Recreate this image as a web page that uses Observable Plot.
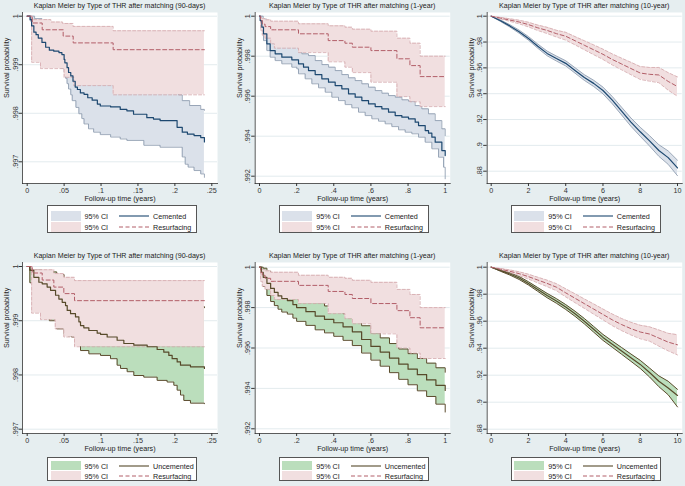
<!DOCTYPE html>
<html>
<head>
<meta charset="utf-8">
<script src="https://cdn.jsdelivr.net/npm/d3@7"></script>
<script src="https://cdn.jsdelivr.net/npm/@observablehq/plot@0.6"></script>
<style>
html,body{margin:0;padding:0}
body{width:685px;height:486px;background:#e6eef0;position:relative;overflow:hidden;font-family:"Liberation Sans",Arial,Helvetica,sans-serif;color:#222}
.pl{position:absolute}
.ttl{position:absolute;font-size:7.1px;white-space:nowrap;transform:translate(-50%,-50%);color:#222}
.lg{position:absolute;background:#fff;border:1px solid #555;box-sizing:border-box;font-size:7.2px;color:#222}
.lg .sw{position:absolute}
.lg .tx{position:absolute;white-space:nowrap;transform:translateY(-50%)}
.lg svg{position:absolute;overflow:visible}
</style>
</head>
<body>
<script>
// ---------- tick values / labels ----------
const xt90 = [0, .05, .1, .15, .2, .25];
const xl90 = ["0", ".05", ".1", ".15", ".2", ".25"];
const xt1 = [0, .2, .4, .6, .8, 1];
const xl1 = ["0", ".2", ".4", ".6", ".8", "1"];
const xt10 = [0, 2, 4, 6, 8, 10];
const xl10 = ["0", "2", "4", "6", "8", "10"];
const ytA90 = [.997, .998, .999, 1];
const ylA90 = [".997", ".998", ".999", "1"];
const yt1 = [.992, .994, .996, .998, 1];
const yl1 = [".992", ".994", ".996", ".998", "1"];
const yt10 = [.88, .9, .92, .94, .96, .98, 1];
const yl10 = [".88", ".9", ".92", ".94", ".96", ".98", "1"];

// ---------- Panel 1: 90 days, cemented vs resurfacing ----------
const cem90_t = [0,.004,.006,.009,.012,.015,.02,.025,.03,.036,.043,.047,.05,.051,.054,.056,.059,.062,.065,.068,.072,.077,.082,.088,.095,.099,.113,.126,.135,.144,.162,.171,.18,.203,.21,.217,.226,.235,.24];
const cem90_s = [1,.99993,.9998,.99967,.99962,.99955,.99946,.99936,.9993,.99928,.99925,.99921,.99911,.99904,.99894,.99884,.99877,.99866,.99854,.99849,.99842,.99839,.99832,.99827,.99819,.99815,.99813,.99808,.99805,.99798,.99791,.99788,.99785,.99771,.99761,.99757,.99754,.9975,.99741];
const cem90_hi_t = [0,.006,.01,.02,.03,.04,.05,.055,.06,.065,.07,.08,.09,.1,.12,.14,.16,.18,.2,.205,.21,.22,.235,.24];
const cem90_hi = [1,1,.99995,.99988,.9998,.99974,.99966,.99952,.99938,.99922,.99905,.99895,.99885,.9988,.99876,.99868,.99862,.99858,.99856,.99838,.99826,.99816,.99808,.99806];
const cem90_lo_t = [0,.004,.006,.009,.013,.018,.022,.027,.036,.045,.05,.052,.054,.056,.059,.061,.066,.07,.074,.077,.083,.09,.099,.113,.126,.135,.158,.18,.21,.214,.218,.226,.235,.24];
const cem90_lo = [1,.9999,.9997,.99955,.9994,.99925,.99912,.99905,.99898,.99893,.99885,.99872,.99861,.9985,.99838,.99826,.99812,.99799,.99789,.99778,.99768,.99761,.99756,.99751,.99747,.99744,.99734,.9973,.9971,.99695,.99689,.99682,.99675,.99668];
const res90a_t = [0,.0068,.0203,.0487,.0623,.1164,.24];
const res90a_s = [1,.99986,.99972,.99959,.99945,.99931,.99931];
const res90a_hi_t = [0,.007,.032,.048,.062,.1164,.24];
const res90a_hi = [1,.99993,.99988,.99985,.99979,.9997,.9997];
const res90a_lo_t = [0,.006,.018,.05,.063,.1164,.24];
const res90a_lo = [1,.99905,.99892,.99874,.99857,.99838,.99838];

// ---------- Panel 2: 1 year, cemented vs resurfacing ----------
const cem1_t = [0,.0036,.0126,.0215,.0395,.0575,.0844,.1203,.1741,.2101,.237,.2639,.2998,.3357,.3716,.4075,.4434,.4794,.5153,.5512,.5871,.623,.6589,.6948,.7307,.7666,.8025,.8384,.8564,.8923,.9102,.9282,.9461,.982,1];
const cem1_s = [1,.99978,.99945,.99912,.99862,.99828,.99812,.99795,.99782,.99762,.99745,.99728,.99708,.99687,.9967,.99653,.99637,.99612,.99595,.99578,.99562,.99548,.99537,.9952,.99503,.99495,.99487,.9947,.99453,.99428,.99415,.99395,.9937,.99328,.99303];
const cem1_hi_t = [0,.01,.02,.04,.06,.09,.12,.17,.21,.228,.264,.3,.336,.372,.4075,.4434,.479,.515,.551,.587,.623,.659,.695,.731,.767,.8025,.838,.874,.91,.946,.982,1];
const cem1_hi = [1,1,.99985,.9996,.99935,.9991,.99885,.9986,.99838,.99812,.99803,.99778,.99758,.99745,.99728,.99708,.99692,.99678,.99662,.99645,.99628,.99615,.99603,.99595,.99582,.99575,.99553,.99537,.99512,.99478,.99437,.99403];
const cem1_lo_t = [0,.009,.0215,.0395,.0575,.0844,.1203,.1741,.201,.21,.246,.282,.318,.354,.3896,.4255,.4614,.4973,.5332,.5691,.605,.641,.6768,.7127,.7487,.7846,.8205,.8564,.8923,.9282,.9641,.991,1];
const cem1_lo = [1,.99945,.99878,.99828,.99795,.99778,.99762,.99745,.99737,.99712,.99687,.99662,.99642,.9962,.99595,.99578,.99558,.99542,.9952,.99503,.99487,.99475,.99462,.99448,.99432,.9942,.99412,.99395,.9937,.99337,.99295,.99245,.99187];
const res1a_t = [0,.006,.015,.03,.06,.08,.21,.37,.46,.5,.6,.74,.81,.865,1];
const res1a_s = [1,.99978,.9996,.99948,.99932,.99932,.99912,.99878,.99865,.99845,.99828,.99787,.99753,.99698,.99698];
const res1a_hi = [1,.99995,.99988,.99982,.99975,.99975,.99962,.99952,.99945,.99935,.99925,.9989,.99865,.998,.998];
const res1a_lo = [1,.9993,.99905,.9989,.99862,.9984,.99818,.99772,.99745,.99718,.9967,.99598,.99572,.99548,.99548];

// ---------- Panel 3: 10 years, cemented vs resurfacing ----------
const t10 = [0,.5,1,1.5,2,2.5,3,3.5,4,4.5,5,5.5,6,6.5,7,7.5,8,8.5,9,9.5,10];
const cem10_s = [1,.9965,.9925,.988,.9828,.9768,.9712,.9672,.9635,.958,.9525,.948,.9425,.935,.9265,.918,.9105,.9035,.896,.8905,.8825];
const cem10_hi = [1,.9971,.9934,.9892,.9842,.9784,.973,.9691,.9655,.9601,.9547,.9504,.9451,.9378,.9295,.9212,.914,.9075,.9005,.8957,.8885];
const cem10_lo = [1,.9959,.9916,.9868,.9814,.9752,.9694,.9653,.9615,.9559,.9503,.9456,.9399,.9322,.9235,.9148,.907,.8995,.8915,.8853,.8765];
const res10a_s = [1,.9985,.997,.9955,.9935,.991,.989,.9865,.9845,.981,.9775,.974,.9705,.9665,.963,.9595,.956,.955,.9545,.9495,.9455];
const res10a_hi = [1,.9991,.998,.9969,.9953,.9931,.9914,.9891,.9875,.9842,.981,.9778,.9745,.9708,.9675,.9643,.961,.9603,.9603,.9563,.953];
const res10a_lo = [1,.9979,.996,.9941,.9917,.9889,.9866,.9839,.9815,.9778,.974,.9702,.9665,.9622,.9585,.9547,.951,.9497,.9485,.9427,.938];

// ---------- Panel 4: 90 days, uncemented vs resurfacing ----------
const unc90_t = [0,.0036,.009,.0158,.0203,.027,.0316,.0384,.0429,.0474,.0519,.0542,.0587,.0654,.07,.0722,.0767,.0835,.0948,.0993,.1083,.1218,.1309,.1444,.1625,.176,.185,.1918,.1963,.2031,.2076,.2211,.24];
const unc90_s = [1,.99993,.9998,.99971,.99968,.99962,.99956,.99947,.9994,.99934,.99928,.99919,.99913,.99907,.99898,.99891,.99887,.99882,.99877,.99875,.9987,.99864,.99858,.99855,.99852,.99847,.99842,.99836,.9983,.99824,.99818,.99815,.99812];
const unc90_hi_t = [0,.0036,.02,.04,.05,.06,.07,.08,.1,.12,.14,.16,.18,.2,.21,.24];
const unc90_hi = [1,.99994,.9999,.99985,.99978,.99972,.99965,.9996,.99955,.9995,.99945,.99942,.99938,.99932,.99926,.99924];
const unc90_lo_t = [0,.0036,.009,.02,.03,.04,.0496,.055,.06,.065,.0722,.0835,.0993,.1128,.1218,.1264,.1354,.1444,.1579,.176,.1895,.1986,.2031,.2076,.2121,.2211,.24];
const unc90_lo = [1,.9997,.9994,.9992,.999,.99885,.99875,.99872,.9987,.99855,.99845,.99839,.99836,.9983,.99818,.99812,.99806,.99799,.99796,.9979,.99787,.99781,.99772,.99763,.99753,.99748,.99747];
const res90b_t = [0,.0068,.0203,.0361,.0496,.0641,.24];
const res90b_s = [1,.99988,.99975,.99962,.9995,.99937,.99937];
const res90b_hi_t = [0,.0068,.0361,.0496,.0641,.24];
const res90b_hi = [1,.99994,.99987,.9998,.99974,.99974];
const res90b_lo_t = [0,.006,.018,.038,.0496,.0641,.24];
const res90b_lo = [1,.99914,.99902,.99885,.9987,.99852,.99852];
const ytB90 = [.997, .998, .999, 1];
const ylB90 = [".997", ".998", ".999", "1"];

// ---------- Panel 5: 1 year, uncemented vs resurfacing ----------
const unc1_t = [0,.01,.02,.04,.06,.08,.1,.12,.15,.18,.2,.25,.3,.35,.4,.45,.5,.55,.6,.65,.7,.75,.8,.85,.9,.95,1];
const unc1_s = [1,.99975,.9995,.9992,.99895,.99875,.99858,.99845,.99835,.99815,.998,.9978,.99758,.99742,.99725,.99705,.9968,.99642,.99608,.9958,.9955,.9952,.99495,.99468,.99442,.99415,.9939];
const unc1_hi = [1,1,.99995,.9998,.9996,.9994,.99925,.99912,.999,.99882,.99868,.99848,.99825,.99808,.9979,.9977,.99745,.9971,.99675,.9965,.99622,.99595,.99572,.99548,.99525,.99502,.9948];
const unc1_lo = [1,.99945,.99905,.9986,.9983,.9981,.99792,.99778,.99768,.99748,.99732,.99712,.9969,.99675,.99658,.99638,.99612,.99575,.9954,.9951,.99478,.99445,.99418,.99388,.9936,.99322,.99283];
const res1b_t = [0,.006,.015,.03,.06,.08,.21,.37,.46,.5,.6,.74,.81,.865,1];
const res1b_s = [1,.99975,.9996,.99945,.9993,.9993,.9991,.9988,.99865,.99845,.9982,.99785,.9975,.997,.997];
const res1b_hi = [1,.99995,.99988,.99982,.99975,.99975,.9996,.9995,.99945,.99935,.99925,.9989,.99865,.998,.998];
const res1b_lo = [1,.9993,.99905,.9989,.9986,.9984,.9982,.9977,.99745,.9972,.9967,.996,.99575,.99548,.99548];

// ---------- Panel 6: 10 years, uncemented vs resurfacing ----------
const unc10_s = [1,.9975,.995,.992,.988,.9835,.979,.975,.9705,.9655,.96,.954,.948,.943,.938,.933,.928,.922,.9155,.9105,.905];
const unc10_hi = [1,.998,.9958,.9931,.9892,.9849,.9806,.9767,.9723,.9674,.962,.9561,.9502,.9453,.9405,.9357,.931,.9253,.9195,.9155,.9095];
const unc10_lo = [1,.997,.9942,.9909,.9868,.9821,.9774,.9733,.9687,.9636,.958,.9519,.9458,.9407,.9355,.9303,.925,.9187,.9115,.9055,.8965];
const res10b_s = [1,.9985,.997,.9952,.993,.9905,.988,.9852,.981,.977,.973,.969,.965,.961,.9575,.9545,.952,.9505,.9475,.9445,.9425];
const res10b_hi = [1,.9991,.998,.9966,.9948,.9926,.9904,.9878,.984,.9803,.9765,.9728,.969,.9653,.962,.9592,.957,.9558,.9535,.951,.95];
const res10b_lo = [1,.9979,.996,.9938,.9912,.9884,.9856,.9826,.978,.9737,.9695,.9652,.961,.9567,.953,.9498,.947,.9452,.9415,.938,.935];

// ---------- labels ----------
const titles = [
  "Kaplan Meier by Type of THR after matching (90-days)",
  "Kaplan Meier by Type of THR after matching (1-year)",
  "Kaplan Meier by Type of THR after matching (10-year)"
];
const xTitle = "Follow-up time (years)";
const yTitle = "Survival probability";
const ciLabel = "95% CI";
const groupTop = "Cemented", groupBottom = "Uncemented", groupRes = "Resurfacing";

// ---------- styles ----------
const C = {
  grid: "#e3ebee",
  cemFill: "#dbe1ea", cemEdge: "#8695aa", cemLine: "#1d4870",
  resFill: "#f1dfe0", resEdge: "#d3a7ab", resLine: "#b25e68",
  uncFill: "#bbdebc", uncEdge: "#5a4b2c", uncLine: "#574a2a",
  axis: "#333"
};
const cols = [
  {left: 0, width: 228, ml: 22, mr: 11, il: 4.7, ir: 5.7, lgLeft: 47},
  {left: 228, width: 227, ml: 26.7, mr: 5.3, il: 4.3, ir: 5, lgLeft: 278.7},
  {left: 455, width: 230, ml: 31.7, mr: 3.3, il: 4, ir: 4.7, lgLeft: 510.7}
];

function stepAt(ts, vs, t) {
  let v = vs[0];
  for (let i = 0; i < ts.length; i++) { if (ts[i] <= t + 1e-12) v = vs[i]; else break; }
  return v;
}
function band(tl, lo, th, hi) {
  const ts = Array.from(new Set([...tl, ...th])).sort((a, b) => a - b);
  return ts.map(t => ({t, lo: stepAt(tl, lo, t), hi: stepAt(th, hi, t)}));
}
function pts(ts, vs) { return ts.map((t, i) => ({t, v: vs[i]})); }

function makePanel(p) {
  const col = cols[p.col];
  const bandA = band(p.A.lo_t, p.A.lo, p.A.hi_t, p.A.hi);
  const bandB = band(p.B.lo_t, p.B.lo, p.B.hi_t, p.B.hi);
  const curve = p.curve;
  const xmap = new Map(p.xt.map((d, i) => [d, p.xl[i]]));
  const ymap = new Map(p.yt.map((d, i) => [d, p.yl[i]]));
  const svg = Plot.plot({
    width: col.width, height: 206,
    marginTop: 12, marginBottom: 23, marginLeft: col.ml, marginRight: col.mr,
    x: {domain: p.xd, insetLeft: col.il, insetRight: col.ir, label: null},
    y: {domain: p.yd, insetTop: p.it, insetBottom: p.ib, label: null},
    style: {background: "transparent", fontFamily: "'Liberation Sans', Arial, sans-serif", fontSize: "7.2px", color: "#222", overflow: "visible"},
    marks: [
      Plot.frame({fill: "#fff", stroke: "none"}),
      Plot.ruleY(p.yt, {stroke: C.grid, strokeWidth: 1}),
      Plot.areaY(bandA, {x: "t", y1: "lo", y2: "hi", curve, fill: p.A.fill}),
      Plot.line(pts(p.A.lo_t, p.A.lo), {x: "t", y: "v", curve, stroke: p.A.edge, strokeWidth: p.A.edgeW}),
      Plot.line(pts(p.A.hi_t, p.A.hi), {x: "t", y: "v", curve, stroke: p.A.edge, strokeWidth: p.A.edgeW}),
      Plot.areaY(bandB, {x: "t", y1: "lo", y2: "hi", curve, fill: p.B.fill}),
      Plot.line(pts(p.B.lo_t, p.B.lo), {x: "t", y: "v", curve, stroke: p.B.edge, strokeWidth: 0.8, strokeDasharray: "3,2"}),
      Plot.line(pts(p.B.hi_t, p.B.hi), {x: "t", y: "v", curve, stroke: p.B.edge, strokeWidth: 0.8, strokeDasharray: "3,2"}),
      Plot.line(pts(p.A.t, p.A.s), {x: "t", y: "v", curve, stroke: p.A.line, strokeWidth: 1.2}),
      Plot.line(pts(p.B.t, p.B.s), {x: "t", y: "v", curve, stroke: p.B.line, strokeWidth: 1, strokeDasharray: "4,2.5"}),
      Plot.axisX({ticks: p.xt, tickFormat: d => xmap.get(d), tickSize: 3, tickPadding: 1, color: C.axis, label: null}),
      Plot.axisY({ticks: p.yt, tickFormat: d => ymap.get(d), tickSize: 3.5, tickPadding: 1.5, tickRotate: -90, color: C.axis, label: null}),
      Plot.frame({anchor: "left", stroke: C.axis, strokeWidth: 0.8}),
      Plot.frame({anchor: "bottom", stroke: C.axis, strokeWidth: 0.8}),
      Plot.text([xTitle], {frameAnchor: "bottom", dy: 17.5, fill: "#222"}),
      Plot.text([yTitle], {frameAnchor: "left", rotate: -90, dx: -16, fill: "#222"})
    ]
  });
  svg.classList.add("pl");
  svg.style.left = col.left + "px";
  svg.style.top = p.top + "px";
  document.body.appendChild(svg);

  const ttl = document.createElement("div");
  ttl.className = "ttl";
  ttl.textContent = p.title;
  ttl.style.left = (col.left + (col.ml + col.width - col.mr) / 2) + "px";
  ttl.style.top = (p.top + 6) + "px";
  document.body.appendChild(ttl);

  // legend
  const lg = document.createElement("div");
  lg.className = "lg";
  const L = p.lg;
  lg.style.left = col.lgLeft + "px";
  lg.style.top = L.top + "px";
  lg.style.width = "150px";
  lg.style.height = L.h + "px";
  const rows = [
    {fill: p.A.fill, stroke: p.A.line, dash: null, label: p.A.name, sw: L.sw1, cy: L.cy1, w: 1.1},
    {fill: p.B.fill, stroke: p.B.line, dash: "4,2.5", label: p.B.name, sw: L.sw2, cy: L.cy2, w: 1}
  ];
  for (const r of rows) {
    const sw = document.createElement("div");
    sw.className = "sw";
    Object.assign(sw.style, {left: "2.5px", top: r.sw[0] + "px", width: "30px", height: r.sw[1] + "px", background: r.fill});
    lg.appendChild(sw);
    const tx = document.createElement("div");
    tx.className = "tx"; tx.textContent = ciLabel;
    Object.assign(tx.style, {left: "36.5px", top: r.cy + "px"});
    lg.appendChild(tx);
    const ns = "http://www.w3.org/2000/svg";
    const s = document.createElementNS(ns, "svg");
    s.setAttribute("width", "30"); s.setAttribute("height", "2");
    Object.assign(s.style, {left: "71px", top: (r.cy - 1) + "px"});
    const ln = document.createElementNS(ns, "line");
    ln.setAttribute("x1", 0); ln.setAttribute("x2", 30); ln.setAttribute("y1", 1); ln.setAttribute("y2", 1);
    ln.setAttribute("stroke", r.stroke); ln.setAttribute("stroke-width", r.w);
    if (r.dash) ln.setAttribute("stroke-dasharray", r.dash);
    s.appendChild(ln);
    lg.appendChild(s);
    const lb = document.createElement("div");
    lb.className = "tx"; lb.textContent = r.label;
    Object.assign(lb.style, {left: "105px", top: r.cy + "px"});
    lg.appendChild(lb);
  }
  document.body.appendChild(lg);
}

const lgTop = {top: 205, h: 28, sw1: [4.5, 10.5], sw2: [15.5, 10], cy1: 10, cy2: 21};
const lgBot = {top: 456.5, h: 24.2, sw1: [3.3, 9.6], sw2: [13.2, 9.6], cy1: 8.2, cy2: 18.2};

const cemStyle = {fill: C.cemFill, edge: C.cemEdge, edgeW: 0.8, line: C.cemLine, name: groupTop};
const uncStyle = {fill: C.uncFill, edge: C.uncEdge, edgeW: 1, line: C.uncLine, name: groupBottom};
const resStyle = {fill: C.resFill, edge: C.resEdge, line: C.resLine, name: groupRes};

makePanel({col: 0, top: 0, it: 3.7, ib: 21.7, xd: [0, .25], yd: [.997, 1], xt: xt90, xl: xl90, yt: ytA90, yl: ylA90, curve: "step-after", title: titles[0], lg: lgTop,
  A: {...cemStyle, t: cem90_t, s: cem90_s, lo_t: cem90_lo_t, lo: cem90_lo, hi_t: cem90_hi_t, hi: cem90_hi},
  B: {...resStyle, t: res90a_t, s: res90a_s, lo_t: res90a_lo_t, lo: res90a_lo, hi_t: res90a_hi_t, hi: res90a_hi}});
makePanel({col: 1, top: 0, it: 3.7, ib: 7.3, xd: [0, 1], yd: [.992, 1], xt: xt1, xl: xl1, yt: yt1, yl: yl1, curve: "step-after", title: titles[1], lg: lgTop,
  A: {...cemStyle, t: cem1_t, s: cem1_s, lo_t: cem1_lo_t, lo: cem1_lo, hi_t: cem1_hi_t, hi: cem1_hi},
  B: {...resStyle, t: res1a_t, s: res1a_s, lo_t: res1a_t, lo: res1a_lo, hi_t: res1a_t, hi: res1a_hi}});
makePanel({col: 2, top: 0, it: 3.7, ib: 12.3, xd: [0, 10], yd: [.88, 1], xt: xt10, xl: xl10, yt: yt10, yl: yl10, curve: "linear", title: titles[2], lg: lgTop,
  A: {...cemStyle, t: t10, s: cem10_s, lo_t: t10, lo: cem10_lo, hi_t: t10, hi: cem10_hi},
  B: {...resStyle, t: t10, s: res10a_s, lo_t: t10, lo: res10a_lo, hi_t: t10, hi: res10a_hi}});
makePanel({col: 0, top: 250, it: 4, ib: 4.3, xd: [0, .25], yd: [.997, 1], xt: xt90, xl: xl90, yt: ytB90, yl: ylB90, curve: "step-after", title: titles[0], lg: lgBot,
  A: {...uncStyle, t: unc90_t, s: unc90_s, lo_t: unc90_lo_t, lo: unc90_lo, hi_t: unc90_hi_t, hi: unc90_hi},
  B: {...resStyle, t: res90b_t, s: res90b_s, lo_t: res90b_lo_t, lo: res90b_lo, hi_t: res90b_hi_t, hi: res90b_hi}});
makePanel({col: 1, top: 250, it: 4.7, ib: 4.7, xd: [0, 1], yd: [.992, 1], xt: xt1, xl: xl1, yt: yt1, yl: yl1, curve: "step-after", title: titles[1], lg: lgBot,
  A: {...uncStyle, t: unc1_t, s: unc1_s, lo_t: unc1_t, lo: unc1_lo, hi_t: unc1_t, hi: unc1_hi},
  B: {...resStyle, t: res1b_t, s: res1b_s, lo_t: res1b_t, lo: res1b_lo, hi_t: res1b_t, hi: res1b_hi}});
makePanel({col: 2, top: 250, it: 4.7, ib: 4.3, xd: [0, 10], yd: [.88, 1], xt: xt10, xl: xl10, yt: yt10, yl: yl10, curve: "linear", title: titles[2], lg: lgBot,
  A: {...uncStyle, t: t10, s: unc10_s, lo_t: t10, lo: unc10_lo, hi_t: t10, hi: unc10_hi},
  B: {...resStyle, t: t10, s: res10b_s, lo_t: t10, lo: res10b_lo, hi_t: t10, hi: res10b_hi}});
</script>
</body>
</html>
